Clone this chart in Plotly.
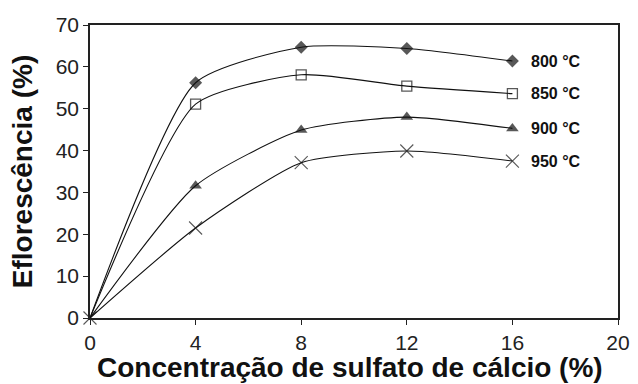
import plotly.graph_objects as go

# Calcium sulfate concentration (%)
concentracao = [0, 4, 8, 12, 16]

# Efflorescence (%) for each firing temperature
eflo_800 = [0, 56.2, 64.7, 64.4, 61.4]
eflo_850 = [0, 51.1, 58.1, 55.4, 53.6]
eflo_900 = [0, 31.6, 44.9, 48.0, 45.3]
eflo_950 = [0, 21.5, 37.1, 39.9, 37.5]

rotulos = ["800 °C", "850 °C", "900 °C", "950 °C"]

x_ticks = [0, 4, 8, 12, 16, 20]
y_ticks = [0, 10, 20, 30, 40, 50, 60, 70]

ink = "#111111"

series = [
    (eflo_800, dict(symbol="diamond", color=ink, size=10, line=dict(width=0))),
    (eflo_850, dict(symbol="square-open", color=ink, size=10, line=dict(width=1.3))),
    (eflo_900, dict(symbol="triangle-up", color=ink, size=11, line=dict(width=0))),
    (eflo_950, dict(symbol="x-thin-open", color=ink, size=13, line=dict(width=1.1, color=ink))),
]

fig = go.Figure()
for i, (vals, mk) in enumerate(series):
    sizes = [mk["size"]] * len(vals)
    if i < 3:
        sizes[0] = 0  # only the 950 °C marker is drawn at the origin
    m = dict(mk)
    m["size"] = sizes
    fig.add_trace(go.Scatter(
        x=concentracao, y=vals, mode="lines+markers",
        line=dict(shape="spline", smoothing=0.6, color=ink, width=1.1),
        marker=m, cliponaxis=False, showlegend=False,
    ))
    fig.add_annotation(
        x=concentracao[-1], y=vals[-1], text=f"<b>{rotulos[i]}</b>",
        showarrow=False, xanchor="left", yanchor="middle", xshift=17,
        font=dict(family="Liberation Sans Narrow, Arial Narrow, Liberation Sans", size=16, color=ink),
    )

axis_common = dict(
    showgrid=False, zeroline=False, showline=True, linecolor="#222", linewidth=1.5,
    ticks="outside", ticklen=5, tickwidth=1.2, tickcolor="#222", mirror=True,
    tickfont=dict(family="Liberation Sans, Arial", size=21, color="#222"),
    automargin=False,
)

fig.update_xaxes(range=[0, 20], tickvals=x_ticks, **axis_common)
fig.update_yaxes(
    range=[0, 70], tickvals=y_ticks, **axis_common,
    title=dict(text="<b>Eflorescência (%)</b>",
               font=dict(family="Liberation Sans, Arial", size=28, color="#111")),
)

# x-axis title placed just under the tick labels
fig.add_annotation(
    xref="paper", yref="paper", x=0.5, y=0, xanchor="center", yanchor="top",
    xshift=-4, yshift=-33, showarrow=False, borderpad=0,
    text="<b>Concentração de sulfato de cálcio (%)</b>",
    font=dict(family="Liberation Sans, Arial", size=28, color="#111"),
)

fig.update_layout(
    width=638, height=384,
    margin=dict(l=90, r=20, t=25, b=66),
    plot_bgcolor="white", paper_bgcolor="white",
)

fig.write_html("out.html")
